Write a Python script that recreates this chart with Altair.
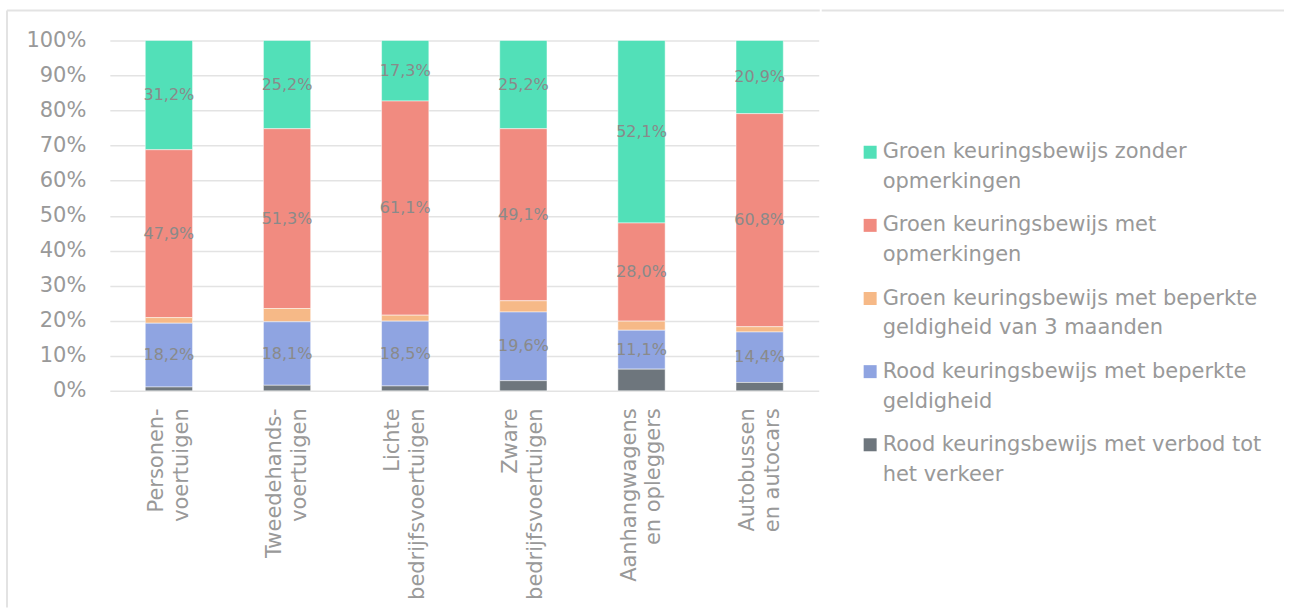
import altair as alt
import pandas as pd

FONT = "DejaVu Sans"

categories = [
    "Personen-\nvoertuigen",
    "Tweedehands-\nvoertuigen",
    "Lichte\nbedrijfsvoertuigen",
    "Zware\nbedrijfsvoertuigen",
    "Aanhangwagens\nen opleggers",
    "Autobussen\nen autocars",
]

series = [
    "Groen keuringsbewijs zonder\nopmerkingen",
    "Groen keuringsbewijs met\nopmerkingen",
    "Groen keuringsbewijs met beperkte\ngeldigheid van 3 maanden",
    "Rood keuringsbewijs met beperkte\ngeldigheid",
    "Rood keuringsbewijs met verbod tot\nhet verkeer",
]
colors = ["#52E0B8", "#F18B80", "#F6B987", "#8FA4E1", "#6E767D"]

groen_zonder = [31.2, 25.2, 17.3, 25.2, 52.1, 20.9]
groen_met = [47.9, 51.3, 61.1, 49.1, 28.0, 60.8]
groen_beperkt = [1.6, 3.8, 1.7, 3.2, 2.6, 1.5]
rood_beperkt = [18.2, 18.1, 18.5, 19.6, 11.1, 14.4]
rood_verbod = [1.1, 1.6, 1.4, 2.9, 6.2, 2.4]

y_ticks = list(range(0, 101, 10))

series_values = [groen_zonder, groen_met, groen_beperkt, rood_beperkt, rood_verbod]
stack_order = [4, 3, 2, 1, 0]
show_label = [True, True, False, True, False]

rows = []
for s, vals, o, lab in zip(series, series_values, stack_order, show_label):
    for c, v in zip(categories, vals):
        rows.append({"cat": c, "series": s, "value": v, "order": o, "show": lab})
df = pd.DataFrame(rows)

color_scale = alt.Scale(domain=series, range=colors)

x_axis = alt.Axis(
    title=None,
    labelAngle=270,
    labelAlign="right",
    labelBaseline="middle",
    labelExpr="split(datum.label, '\\n')",
    labelLineHeight=25,
    labelOffset=-12,
    labelPadding=17,
    labelLimit=0,
    ticks=False,
    domain=False,
    labelFont=FONT,
    labelFontSize=21,
    labelColor="#999999",
)
x_scale = alt.Scale(paddingInner=0.6, paddingOuter=0.3)

y_axis = alt.Axis(
    values=y_ticks,
    labelExpr="datum.value + '%'",
    title=None,
    ticks=False,
    domain=False,
    grid=True,
    gridColor="#E3E3E3",
    gridWidth=1.5,
    labelPadding=24,
    labelFont=FONT,
    labelFontSize=21,
    labelColor="#999999",
)
y_scale = alt.Scale(domain=[0, 100], nice=False)

bars = (
    alt.Chart(df)
    .mark_bar(stroke="white", strokeWidth=0.8, strokeOpacity=0.6)
    .encode(
        x=alt.X("cat:N", sort=categories, scale=x_scale, axis=x_axis),
        y=alt.Y("value:Q", stack="zero", scale=y_scale, axis=y_axis),
        color=alt.Color("series:N", scale=color_scale, legend=None),
        order=alt.Order("order:Q", sort="ascending"),
    )
)

labels = (
    alt.Chart(df)
    .transform_stack(
        stack="value",
        groupby=["cat"],
        as_=["y0", "y1"],
        sort=[alt.SortField("order", "ascending")],
    )
    .transform_filter("datum.show")
    .transform_calculate(
        mid="(datum.y0 + datum.y1) / 2",
        txt="replace(format(datum.value, '.1f'), '.', ',') + '%'",
    )
    .mark_text(font=FONT, fontSize=16, color="#8A8A8A")
    .encode(
        x=alt.X("cat:N", sort=categories, scale=x_scale, axis=x_axis),
        y=alt.Y("mid:Q", scale=y_scale, axis=y_axis),
        text="txt:N",
    )
)

frame_df = pd.DataFrame({"k": [0]})
frame_v = (
    alt.Chart(frame_df)
    .mark_rule(color="#E3E3E3", strokeWidth=2)
    .encode(x=alt.value(-103), y=alt.value(-30), y2=alt.value(568))
)
frame_h = (
    alt.Chart(frame_df)
    .mark_rule(color="#E3E3E3", strokeWidth=2)
    .encode(x=alt.value(-103), x2=alt.value(711), y=alt.value(-30))
)

main = alt.layer(bars, labels, frame_v, frame_h).properties(width=710, height=351)

leg_df = pd.DataFrame({"series": series})
leg_y = alt.Y(
    "series:N",
    sort=series,
    scale=alt.Scale(domain=series, range=[112, 405], padding=0),
    axis=None,
)
leg_sq = (
    alt.Chart(leg_df)
    .mark_square(size=169, opacity=1)
    .encode(
        x=alt.value(48.5),
        y=leg_y,
        color=alt.Color("series:N", scale=color_scale, legend=None),
    )
)
leg_txt = (
    alt.Chart(leg_df)
    .mark_text(
        align="left",
        baseline="middle",
        lineBreak="\n",
        lineHeight=30,
        font=FONT,
        fontSize=21,
        color="#999999",
    )
    .encode(x=alt.value(61), y=leg_y, text="series:N")
)
leg_top = (
    alt.Chart(frame_df)
    .mark_rule(color="#E3E3E3", strokeWidth=2)
    .encode(x=alt.value(0), x2=alt.value(463), y=alt.value(-30))
)
legend_panel = alt.layer(leg_top, leg_sq, leg_txt).properties(width=463, height=351)

chart = (
    alt.hconcat(main, legend_panel, spacing=0)
    .properties(padding={"left": 6, "top": 9, "right": 5, "bottom": 0})
    .configure_view(stroke=None)
)

chart.save("out.html", embed_options={"renderer": "svg", "actions": False})
